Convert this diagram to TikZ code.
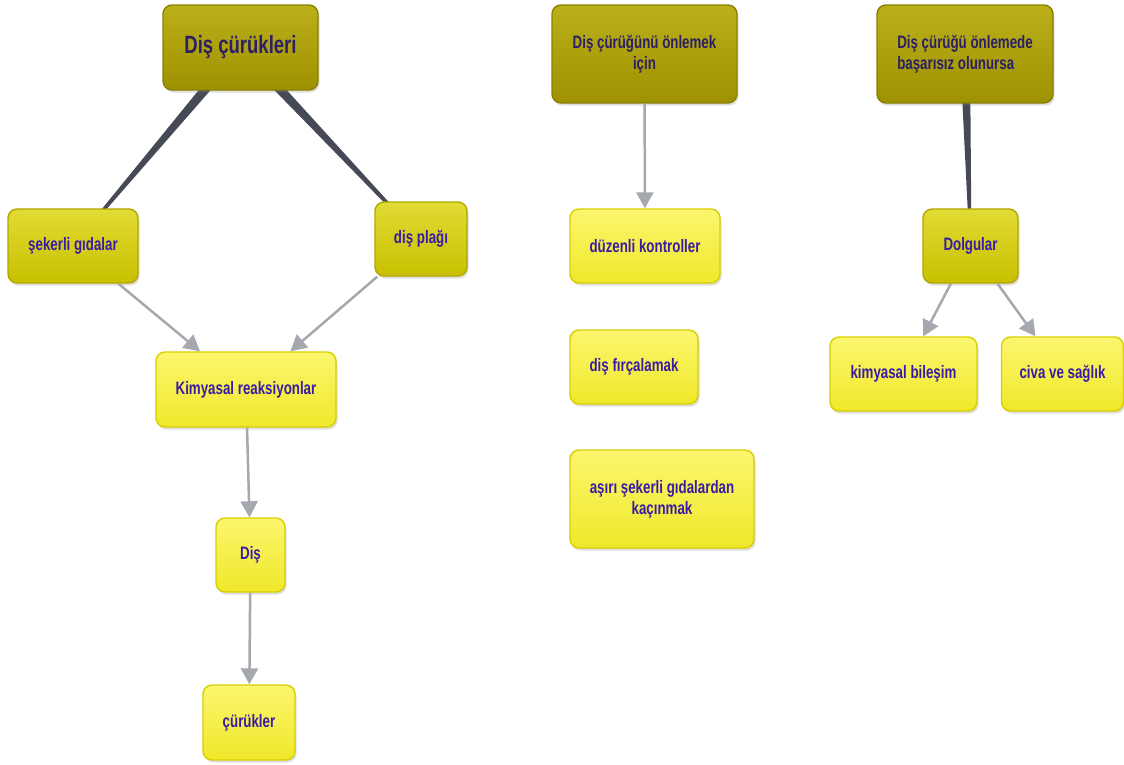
\documentclass[tikz,border=0pt]{standalone}
\usepackage{fontspec}
\setmainfont[FakeStretch=0.74]{Liberation Sans}
\usetikzlibrary{arrows.meta,shadows,calc,backgrounds}
\definecolor{oliveTop}{HTML}{BBB01A}
\definecolor{oliveBot}{HTML}{9E9100}
\definecolor{oliveLine}{HTML}{8A8000}
\definecolor{midTop}{HTML}{E2DB34}
\definecolor{midBot}{HTML}{C8C000}
\definecolor{midLine}{HTML}{B0A800}
\definecolor{lightTop}{HTML}{FBF66E}
\definecolor{lightBot}{HTML}{F0E82A}
\definecolor{lightLine}{HTML}{D8CF00}
\definecolor{inkDark}{HTML}{2B1F66}
\definecolor{inkBlue}{HTML}{3A1CA4}
\definecolor{arrowGray}{HTML}{A6A8B0}
\definecolor{taperGray}{HTML}{454A56}
\tikzset{
        box/.style={rectangle, rounded corners=9pt, align=center, inner sep=0pt, line width=1.4pt,
                    font=\bfseries\fontsize{18}{21}\selectfont,
                    drop shadow={opacity=0.25, shadow xshift=1.5pt, shadow yshift=-2.5pt}},
        % Top level boxes
        node_olive/.style={box, top color=oliveTop, bottom color=oliveBot, draw=oliveLine, text=inkDark},
        % Middle boxes
        node_mid/.style={box, top color=midTop, bottom color=midBot, draw=midLine, text=inkBlue},
        % Light boxes
        node_light/.style={box, top color=lightTop, bottom color=lightBot, draw=lightLine, text=inkBlue},
        % Links
        link_arrow/.style={draw=arrowGray, line width=2.5pt, -{Triangle[length=16pt,width=17pt]}},
        link_taper/.style={fill=taperGray}
}
\begin{document}
\begin{tikzpicture}[x=1pt, y=-1pt]
    \useasboundingbox (0,0) rectangle (1124,764);
    % first group
    \node[node_olive, minimum width=155pt, minimum height=85pt, font=\bfseries\fontsize{25}{30}\selectfont] (curuk) at (240.5,47.5) {Diş çürükleri};
    \node[node_mid, minimum width=130pt, minimum height=74pt] (sekerli) at (73,246) {şekerli gıdalar};
    \node[node_mid, minimum width=92pt, minimum height=74pt] (plak) at (421,239) {diş plağı};
    \node[node_light, minimum width=180pt, minimum height=75pt] (reaksiyon) at (246,389.5) {Kimyasal reaksiyonlar};
    \node[node_light, minimum width=69pt, minimum height=74pt] (dis) at (250.5,555) {Diş};
    \node[node_light, minimum width=92pt, minimum height=75pt] (curukler) at (249,722.5) {çürükler};
    % second group
    \node[node_olive, minimum width=185pt, minimum height=98pt] (onlemek) at (644.5,54) {Diş çürüğünü önlemek\\için};
    \node[node_light, minimum width=150pt, minimum height=74pt] (kontrol) at (645,246) {düzenli kontroller};
    \node[node_light, minimum width=128pt, minimum height=74pt] (fircalamak) at (634,367) {diş fırçalamak};
    \node[node_light, minimum width=184pt, minimum height=98pt] (kacinmak) at (662,499) {aşırı şekerli gıdalardan\\kaçınmak};
    % third group
    \node[node_olive, minimum width=176pt, minimum height=98pt, align=left] (basarisiz) at (965,54) {Diş çürüğü önlemede\\başarısız olunursa};
    \node[node_mid, minimum width=95pt, minimum height=74pt] (dolgular) at (970.5,246) {Dolgular};
    \node[node_light, minimum width=147pt, minimum height=74pt] (bilesim) at (903.5,374) {kimyasal bileşim};
    \node[node_light, minimum width=122pt, minimum height=74pt] (civa) at (1062.5,374) {civa ve sağlık};

    % tapered links
    \begin{scope}[on background layer]
        \fill[link_taper] ($(curuk)!5.5pt!90:(sekerli)$) -- ($(curuk)!5.5pt!-90:(sekerli)$)
            -- ($(sekerli)!1pt!90:(curuk)$) -- ($(sekerli)!1pt!-90:(curuk)$) -- cycle;
        \fill[link_taper] ($(curuk)!5.5pt!90:(plak)$) -- ($(curuk)!5.5pt!-90:(plak)$)
            -- ($(plak)!1pt!90:(curuk)$) -- ($(plak)!1pt!-90:(curuk)$) -- cycle;
        \fill[link_taper] ($(basarisiz)!5pt!90:(dolgular)$) -- ($(basarisiz)!5pt!-90:(dolgular)$)
            -- ($(dolgular)!1pt!90:(basarisiz)$) -- ($(dolgular)!1pt!-90:(basarisiz)$) -- cycle;
    \end{scope}

    % arrows
    \draw[link_arrow] (sekerli) -- (reaksiyon);
    \draw[link_arrow] (plak) -- (reaksiyon);
    \draw[link_arrow] (reaksiyon) -- (dis);
    \draw[link_arrow] (dis) -- (curukler);
    \draw[link_arrow] (onlemek) -- (kontrol);
    \draw[link_arrow] (dolgular) -- (bilesim);
    \draw[link_arrow] (dolgular) -- (civa);
\end{tikzpicture}
\end{document}
